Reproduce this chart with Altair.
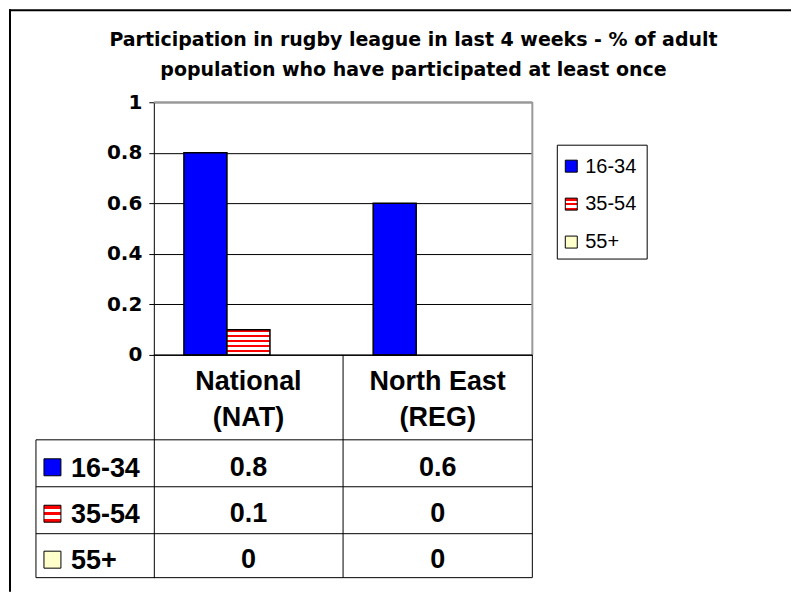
import altair as alt
import pandas as pd

# ---------------- data ----------------
regions = ["National (NAT)", "North East (REG)"]
region_headers = ["National\n(NAT)", "North East\n(REG)"]
age_groups = ["16-34", "35-54", "55+"]
values_16_34 = [0.8, 0.6]
values_35_54 = [0.1, 0.0]
values_55_plus = [0.0, 0.0]
y_ticks = [0, 0.2, 0.4, 0.6, 0.8, 1]
title_lines = [
    "Participation in rugby league in last 4 weeks - % of adult",
    "population who have participated at least once",
]
age_colors = ["#0000FF", "#FF0000", "#FFFFCC"]

rows = []
for age, vals in zip(age_groups, [values_16_34, values_35_54, values_55_plus]):
    for reg, head, v in zip(regions, region_headers, vals):
        rows.append({"region": reg, "header": head, "age": age,
                     "value": v, "label": f"{v:g}"})
df = pd.DataFrame(rows)
one = pd.DataFrame({"k": [0]})

# ---------------- layout (pixels, relative to plot origin) ----------------
W = 379           # plot width
H = 476           # plot + table height
ZERO = 253        # pixel row of value 0
y_min = -(H - ZERO) / ZERO
FONT = "Liberation Sans"
WIDE = "DejaVu Sans"
BIG = 27


def stripes(n):
    stops = []
    for k in range(n):
        a, c = k / n, (k + 1) / n
        col = "#FF0000" if k % 2 == 0 else "#FFFFFF"
        stops += [{"offset": a, "color": col}, {"offset": c, "color": col}]
    return {"gradient": "linear", "x1": 0, "y1": 0, "x2": 0, "y2": 1, "stops": stops}


x_enc = alt.X("region:N", scale=alt.Scale(domain=regions, paddingInner=0, paddingOuter=0), axis=None)
xo_enc = alt.XOffset("age:N", scale=alt.Scale(domain=age_groups, paddingInner=0, paddingOuter=0.7))
y_scale = alt.Scale(domain=[y_min, 1], nice=False, zero=False)
y_axis = alt.Axis(
    values=y_ticks, format="~g", title=None, grid=True,
    gridColor="black", gridWidth=1, domainColor="black", domainWidth=1,
    tickColor="black", tickSize=5, labelPadding=7,
    labelFont=WIDE, labelFontSize=20, labelFontWeight="bold", labelColor="black")


def vline(x, y1, y2, color="black", w=1):
    return alt.Chart(one).mark_rule(color=color, strokeWidth=w).encode(
        x=alt.value(x), y=alt.value(y1), y2=alt.value(y2))


def hline(y, x1, x2, color="black", w=1):
    return alt.Chart(one).mark_rule(color=color, strokeWidth=w).encode(
        y=alt.value(y), x=alt.value(x1), x2=alt.value(x2))


def box(x1, x2, y1, y2, fill, stroke="black"):
    return alt.Chart(one).mark_rect(fill=fill, stroke=stroke, strokeWidth=1).encode(
        x=alt.value(x1), x2=alt.value(x2), y=alt.value(y1), y2=alt.value(y2))


def label(text, x, y, size, weight="normal", align="left", line_height=None, font=FONT):
    kw = dict(text=text, align=align, baseline="alphabetic", font=font,
              fontSize=size, fontWeight=weight, color="black")
    if line_height:
        kw["lineHeight"] = line_height
    return alt.Chart(one).mark_text(**kw).encode(x=alt.value(x), y=alt.value(y))


layers = []

# bars (first layer carries the y axis and grid)
bars_main = alt.Chart(df).transform_filter(
    "datum.value > 0 && datum.age != '35-54'"
).mark_bar(stroke="black", strokeWidth=1.5).encode(
    x=x_enc, xOffset=xo_enc,
    y=alt.Y("value:Q", scale=y_scale, axis=y_axis),
    fill=alt.Fill("age:N", scale=alt.Scale(domain=age_groups, range=age_colors), legend=None),
)
bars_striped = alt.Chart(df).transform_filter(
    "datum.value > 0 && datum.age == '35-54'"
).mark_bar(fill=stripes(10), stroke="black", strokeWidth=1.5).encode(
    x=x_enc, xOffset=xo_enc,
    y=alt.Y("value:Q", scale=y_scale, axis=y_axis),
)
layers.append(bars_main)
layers.append(bars_striped)

# outer chart border (left and top)
layers.append(vline(-144, -93, 490, w=2))
layers.append(hline(-92, -145, 638, w=2))

# plot area border (gray) top and right
layers.append(hline(0, 0, W, color="#999999", w=2))
layers.append(vline(W, 0, ZERO, color="#999999", w=2))

# data table lines
layers.append(hline(ZERO, 0, W))
layers.append(vline(W / 2, ZERO, H))
layers.append(vline(W, ZERO, H))
layers.append(vline(-118, 338, H))
for yy in [338, 385, 432, H]:
    layers.append(hline(yy, -118, W))

# table header (category names)
layers.append(
    alt.Chart(df).transform_filter(alt.datum.age == age_groups[0]).mark_text(
        lineBreak="\n", lineHeight=36, align="center", baseline="alphabetic",
        font=FONT, fontSize=BIG, fontWeight="bold", color="black"
    ).encode(x=x_enc, y=alt.value(288), text="header:N")
)

# table values
row_base = [374, 420.5, 466]
for age, yb in zip(age_groups, row_base):
    layers.append(
        alt.Chart(df).transform_filter(alt.datum.age == age).mark_text(
            align="center", baseline="alphabetic", font=FONT, fontSize=BIG,
            fontWeight="bold", color="black"
        ).encode(x=x_enc, y=alt.value(yb), text="label:N")
    )

# table row labels with keys
sq_centers = [365.5, 412, 458]
key_fills = [age_colors[0], stripes(5), age_colors[2]]
for age, yc, yb, f in zip(age_groups, sq_centers, row_base, key_fills):
    layers.append(box(-110, -93, yc - 8.5, yc + 8.5, f))
    layers.append(label(age, -83, yb + 1, BIG, weight="bold"))

# legend
layers.append(box(404, 494, 43, 157, "white"))
leg_centers = [64, 102, 140]
leg_base = [71, 108, 146]
for age, yc, yb, f in zip(age_groups, leg_centers, leg_base, key_fills):
    layers.append(box(412, 424, yc - 6, yc + 6, f))
    layers.append(label(age, 432, yb, 20))

# title
layers.append(label(title_lines, 260, -56, 19, weight="bold", align="center",
                    line_height=30, font=WIDE))

chart = alt.layer(*layers).properties(
    width=W, height=H, padding=0, background="white"
).configure_view(stroke=None)

chart.save("out.html", embed_options={"renderer": "svg", "actions": False})
